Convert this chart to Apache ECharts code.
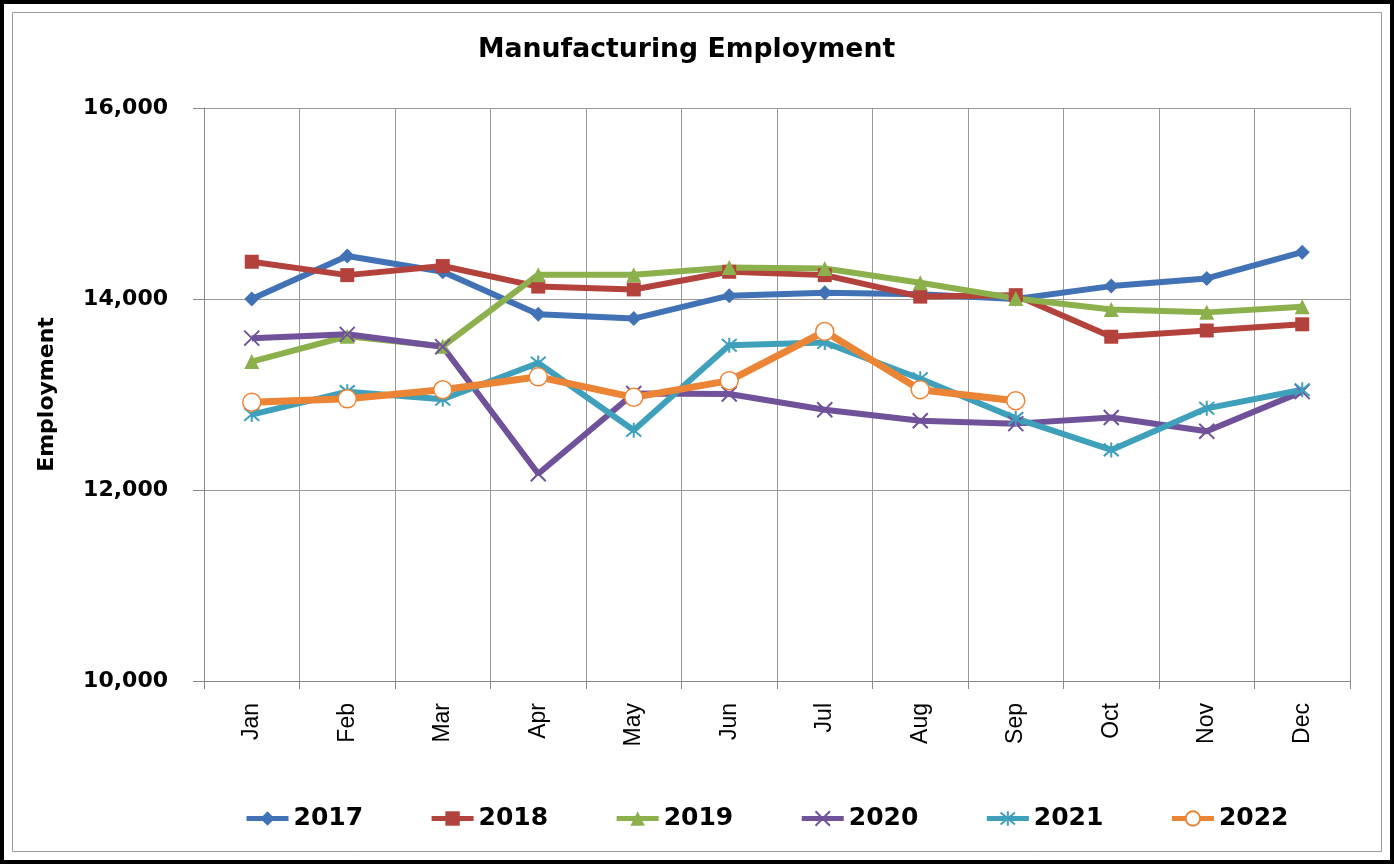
<!DOCTYPE html>
<html>
<head>
<meta charset="utf-8">
<script src="https://cdn.jsdelivr.net/npm/echarts@6/dist/echarts.min.js"></script>
<style>
html,body{margin:0;padding:0;background:#fff;}
#c{width:1394px;height:864px;}
</style>
</head>
<body>
<div id="c"></div>
<script>
const months = ['Jan','Feb','Mar','Apr','May','Jun','Jul','Aug','Sep','Oct','Nov','Dec'];
const yTicks = [10000, 12000, 14000, 16000];
const s2017 = [14000, 14450, 14285, 13840, 13795, 14035, 14065, 14050, 14000, 14135, 14215, 14490];
const s2018 = [14390, 14250, 14345, 14130, 14100, 14285, 14250, 14025, 14040, 13605, 13670, 13735];
const s2019 = [13345, 13610, 13505, 14255, 14255, 14330, 14320, 14170, 14005, 13890, 13860, 13920];
const s2020 = [13590, 13630, 13500, 12170, 13010, 13005, 12840, 12725, 12695, 12760, 12615, 13030];
const s2021 = [12790, 13030, 12950, 13330, 12625, 13515, 13545, 13165, 12750, 12420, 12855, 13050];
const s2022 = [12920, 12955, 13050, 13185, 12970, 13145, 13660, 13050, 12935];
const seriesNames = ['2017','2018','2019','2020','2021','2022'];
const colors = ['#4172B6','#B4423C','#8BB04C','#70529A','#3EA0BA','#EC8436'];

const BOLD = '"DejaVu Sans", Verdana, sans-serif';
const REG = '"Liberation Sans", Arial, sans-serif';
const chart = echarts.init(document.getElementById('c'), null, {renderer:'canvas'});

function mk(name, data, color, symbol, size, extra) {
  return Object.assign({
    name: name, type: 'line', data: data, symbol: symbol, symbolSize: size,
    showAllSymbol: true,
    lineStyle: {color: color, width: 6},
    itemStyle: {color: color},
    emphasis: {disabled: true},
    animation: false
  }, extra || {});
}

chart.setOption({
  animation: false,
  color: colors,
  title: {
    text: 'Manufacturing Employment', left: 473, top: 32,
    textStyle: {fontFamily: BOLD, fontWeight: 'bold', fontSize: 26.7, color: '#000'}
  },
  graphic: [
    {type:'rect', shape:{x:2,y:2,width:1390,height:860}, style:{fill:'none', stroke:'#000', lineWidth:4}, silent:true},
    {type:'rect', shape:{x:12.5,y:12.5,width:1369,height:839}, style:{fill:'none', stroke:'#999', lineWidth:1}, silent:true}
  ],
  grid: {left: 204, right: 44, top: 108, bottom: 183, containLabel: false},
  legend: {
    bottom: 28, left: 239, itemWidth: 42, itemHeight: 18, itemGap: 66,
    data: seriesNames,
    lineStyle: {width: 5},
    textStyle: {fontFamily: BOLD, fontWeight: 'bold', fontSize: 25, color: '#000'}
  },
  xAxis: {
    type: 'category', data: months, boundaryGap: true,
    axisLine: {show: true, lineStyle: {color: '#888', width: 1}},
    axisTick: {show: true, length: 8, lineStyle: {color: '#888'}},
    splitLine: {show: true, lineStyle: {color: '#999', width: 1}},
    axisLabel: {rotate: 90, margin: 22, fontFamily: REG, fontSize: 23, color: '#000'}
  },
  yAxis: {
    type: 'value', min: yTicks[0], max: yTicks[yTicks.length-1], interval: 2000,
    name: 'Employment', nameLocation: 'middle', nameGap: 146, nameRotate: 90,
    nameTextStyle: {fontFamily: BOLD, fontWeight: 'bold', fontSize: 22, color: '#000'},
    axisLine: {show: true, lineStyle: {color: '#888', width: 1}},
    axisTick: {show: true, length: 11, lineStyle: {color: '#888'}},
    splitLine: {show: true, lineStyle: {color: '#999', width: 1}},
    axisLabel: {margin: 36, fontFamily: BOLD, fontWeight: 'bold', fontSize: 22, color: '#000',
      formatter: v => v.toLocaleString('en-US')}
  },
  series: [
    mk('2017', s2017, colors[0], 'diamond', 15),
    mk('2018', s2018, colors[1], 'rect', 14),
    mk('2019', s2019, colors[2], 'triangle', 15),
    mk('2020', s2020, colors[3], 'path://M0,0L10,10M10,0L0,10', 15,
       {itemStyle: {color: colors[3], borderColor: colors[3], borderWidth: 2}}),
    mk('2021', s2021, colors[4], 'path://M0,0L10,10M10,0L0,10M5,-1L5,11', 15,
       {itemStyle: {color: colors[4], borderColor: colors[4], borderWidth: 2}}),
    mk('2022', s2022, colors[5], 'circle', 18,
       {lineStyle: {color: colors[5], width: 7}, itemStyle: {color: '#fff', borderColor: colors[5], borderWidth: 1.5}, z: 5})
  ]
});
</script>
</body>
</html>
